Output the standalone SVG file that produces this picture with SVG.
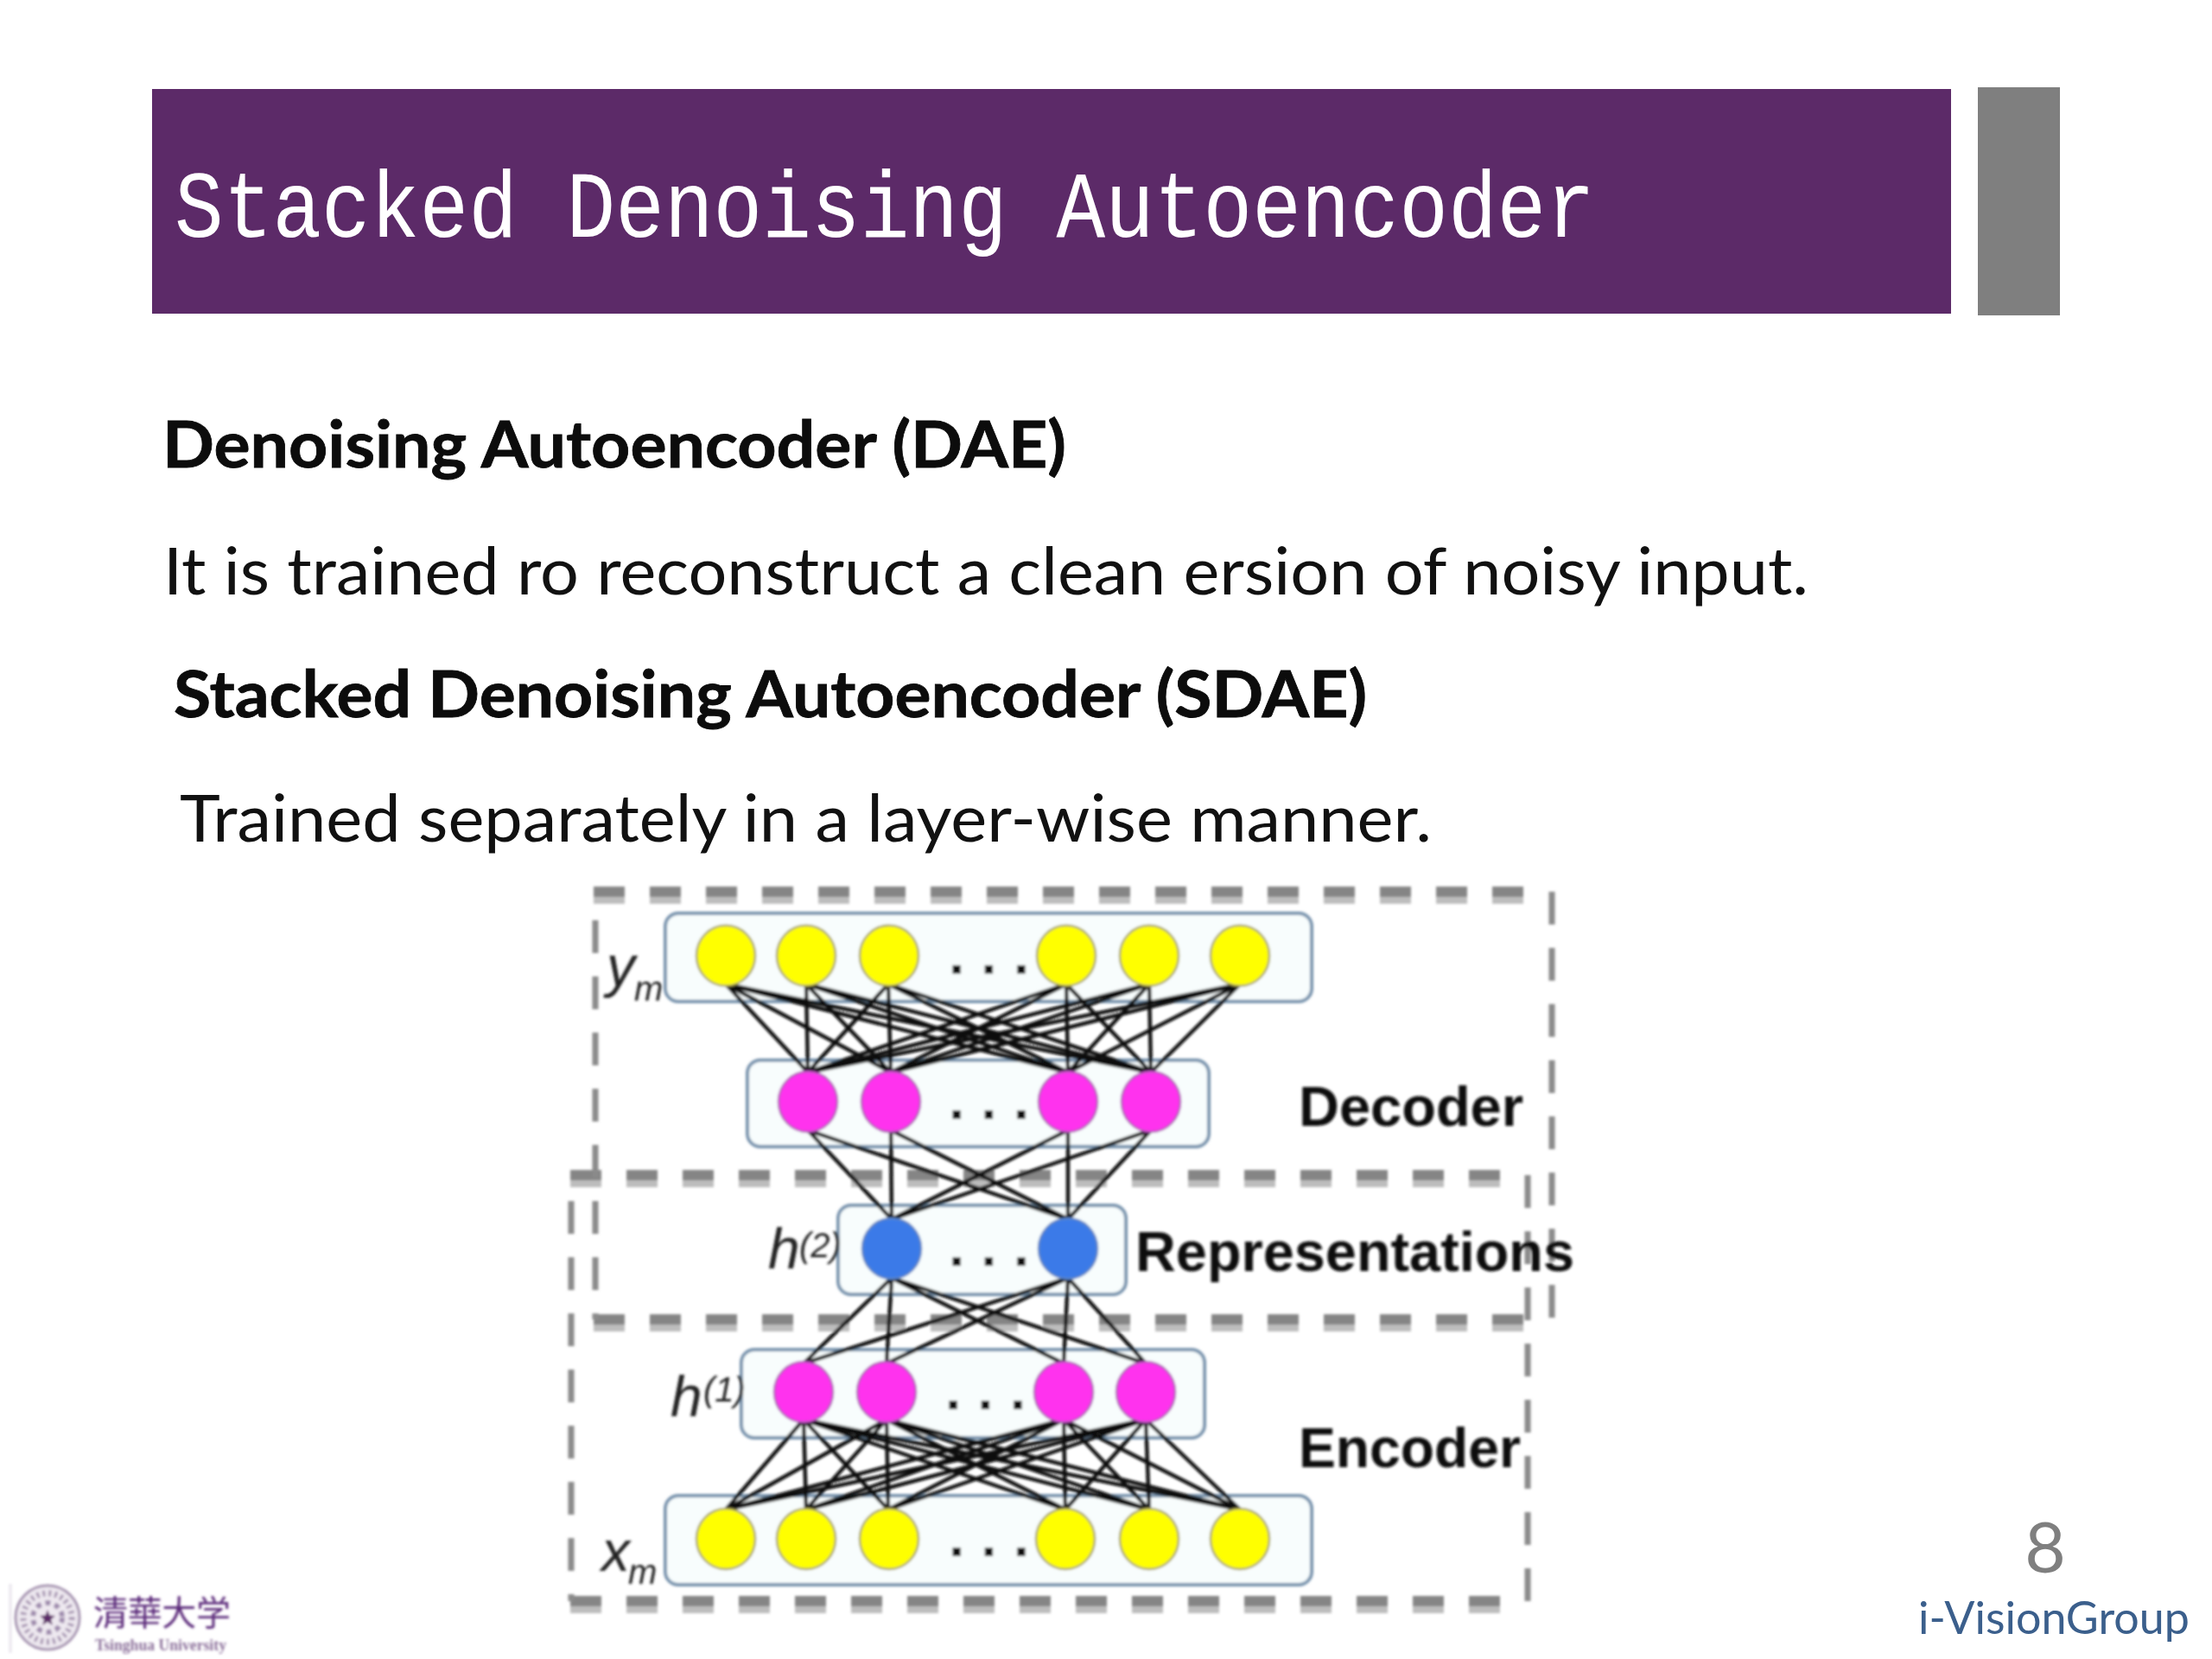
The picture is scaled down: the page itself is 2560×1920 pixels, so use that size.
<svg xmlns="http://www.w3.org/2000/svg" width="2560" height="1920" viewBox="0 0 2560 1920">
<style>
.h{font-family:"Lato","Open Sans",sans-serif;font-size:75px;font-weight:700;fill:#0c0c0c;stroke:#0c0c0c;stroke-width:.8}
.b{font-family:"Lato","Open Sans",sans-serif;font-size:75px;font-weight:400;fill:#111}
.lab{font-family:"Liberation Sans",Arial,sans-serif;font-weight:700;font-size:64px;fill:#111}
.it{font-family:"Liberation Sans",Arial,sans-serif;font-style:italic;fill:#222}
.dots{font-family:"Liberation Sans",Arial,sans-serif;font-weight:700;font-size:66px;fill:#111;letter-spacing:19px}
.dh{stroke:#858585;stroke-width:12;stroke-dasharray:36 29;fill:none}
.ds{stroke:#bdbdbd;stroke-width:10;stroke-dasharray:36 29;fill:none}
.dv{stroke:#8a8a8a;stroke-width:7;stroke-dasharray:38 27;fill:none}
.box{fill:#f8fdfd;stroke:#7793ad;stroke-width:4}
.y{fill:#ffff00;stroke:#a8a25a;stroke-width:2.5}
.m{fill:#ff33ee;stroke:#b056b8;stroke-width:2.5}
.c{fill:#3b7ae8;stroke:#5b84c4;stroke-width:2.5}
#edges line{stroke:#0a0a0a;stroke-width:4.4}
</style>
<defs><filter id="soft" x="-2%" y="-2%" width="104%" height="104%"><feGaussianBlur stdDeviation="1.7"/></filter></defs>
<rect width="2560" height="1920" fill="#fff"/>
<g id="title">
<rect x="176" y="103" width="2082" height="260" fill="#5c2a68"/>
<rect x="2289" y="101" width="95" height="264" fill="#7f7f7f"/>
<text x="202" y="274" font-family="Liberation Mono, monospace" font-size="110" fill="#fff" textLength="1644" lengthAdjust="spacingAndGlyphs">Stacked Denoising Autoencoder</text>
</g>
<g id="body">
<text class="h" x="188" y="541" textLength="1046" lengthAdjust="spacingAndGlyphs">Denoising Autoencoder (DAE)</text>
<text class="b" x="189" y="688" textLength="1904" lengthAdjust="spacingAndGlyphs">It is trained ro reconstruct a clean ersion of noisy input.</text>
<text class="h" x="201" y="830" textLength="1381" lengthAdjust="spacingAndGlyphs">Stacked Denoising Autoencoder (SDAE)</text>
<text class="b" x="208" y="974" textLength="1449" lengthAdjust="spacingAndGlyphs">Trained separately in a layer-wise manner.</text>
</g>
<g id="network" filter="url(#soft)">
<g id="frames">
<line class="ds" x1="687" y1="1041" x2="1771" y2="1041"/>
<line class="ds" x1="660" y1="1369" x2="1745" y2="1369"/>
<line class="ds" x1="687" y1="1536" x2="1771" y2="1536"/>
<line class="ds" x1="660" y1="1862" x2="1745" y2="1862"/>
<line class="dh" x1="687" y1="1032" x2="1771" y2="1032"/>
<line class="dh" x1="660" y1="1360" x2="1745" y2="1360"/>
<line class="dh" x1="687" y1="1527" x2="1771" y2="1527"/>
<line class="dh" x1="660" y1="1853" x2="1745" y2="1853"/>
<line class="dv" x1="689" y1="1065" x2="689" y2="1527"/>
<line class="dv" x1="1796" y1="1032" x2="1796" y2="1530"/>
<line class="dv" x1="661" y1="1390" x2="661" y2="1853"/>
<line class="dv" x1="1768" y1="1360" x2="1768" y2="1853"/>
</g>
<g id="layer-boxes">
<rect class="box" x="770" y="1057" width="748" height="102" rx="15"/>
<rect class="box" x="865" y="1227" width="534" height="100" rx="15"/>
<rect class="box" x="970" y="1395" width="333" height="103" rx="15"/>
<rect class="box" x="858" y="1562" width="536" height="102" rx="15"/>
<rect class="box" x="770" y="1731" width="748" height="103" rx="15"/>
</g>
<g id="edges">
<line x1="840" y1="1139" x2="935" y2="1241"/><line x1="840" y1="1139" x2="1031" y2="1241"/><line x1="840" y1="1139" x2="1236" y2="1241"/><line x1="840" y1="1139" x2="1332" y2="1241"/>
<line x1="933" y1="1139" x2="935" y2="1241"/><line x1="933" y1="1139" x2="1031" y2="1241"/><line x1="933" y1="1139" x2="1236" y2="1241"/><line x1="933" y1="1139" x2="1332" y2="1241"/>
<line x1="1028" y1="1139" x2="935" y2="1241"/><line x1="1028" y1="1139" x2="1031" y2="1241"/><line x1="1028" y1="1139" x2="1236" y2="1241"/><line x1="1028" y1="1139" x2="1332" y2="1241"/>
<line x1="1234" y1="1139" x2="935" y2="1241"/><line x1="1234" y1="1139" x2="1031" y2="1241"/><line x1="1234" y1="1139" x2="1236" y2="1241"/><line x1="1234" y1="1139" x2="1332" y2="1241"/>
<line x1="1330" y1="1139" x2="935" y2="1241"/><line x1="1330" y1="1139" x2="1031" y2="1241"/><line x1="1330" y1="1139" x2="1236" y2="1241"/><line x1="1330" y1="1139" x2="1332" y2="1241"/>
<line x1="1435" y1="1139" x2="935" y2="1241"/><line x1="1435" y1="1139" x2="1031" y2="1241"/><line x1="1435" y1="1139" x2="1236" y2="1241"/><line x1="1435" y1="1139" x2="1332" y2="1241"/>
<line x1="935" y1="1308" x2="1032" y2="1411"/><line x1="935" y1="1308" x2="1236" y2="1411"/>
<line x1="1031" y1="1308" x2="1032" y2="1411"/><line x1="1031" y1="1308" x2="1236" y2="1411"/>
<line x1="1236" y1="1308" x2="1032" y2="1411"/><line x1="1236" y1="1308" x2="1236" y2="1411"/>
<line x1="1332" y1="1308" x2="1032" y2="1411"/><line x1="1332" y1="1308" x2="1236" y2="1411"/>
<line x1="1032" y1="1479" x2="930" y2="1578"/><line x1="1032" y1="1479" x2="1026" y2="1578"/><line x1="1032" y1="1479" x2="1231" y2="1578"/><line x1="1032" y1="1479" x2="1326" y2="1578"/>
<line x1="1236" y1="1479" x2="930" y2="1578"/><line x1="1236" y1="1479" x2="1026" y2="1578"/><line x1="1236" y1="1479" x2="1231" y2="1578"/><line x1="1236" y1="1479" x2="1326" y2="1578"/>
<line x1="930" y1="1643" x2="840" y2="1747"/><line x1="930" y1="1643" x2="933" y2="1747"/><line x1="930" y1="1643" x2="1028" y2="1747"/><line x1="930" y1="1643" x2="1233" y2="1747"/><line x1="930" y1="1643" x2="1330" y2="1747"/><line x1="930" y1="1643" x2="1435" y2="1747"/>
<line x1="1026" y1="1643" x2="840" y2="1747"/><line x1="1026" y1="1643" x2="933" y2="1747"/><line x1="1026" y1="1643" x2="1028" y2="1747"/><line x1="1026" y1="1643" x2="1233" y2="1747"/><line x1="1026" y1="1643" x2="1330" y2="1747"/><line x1="1026" y1="1643" x2="1435" y2="1747"/>
<line x1="1231" y1="1643" x2="840" y2="1747"/><line x1="1231" y1="1643" x2="933" y2="1747"/><line x1="1231" y1="1643" x2="1028" y2="1747"/><line x1="1231" y1="1643" x2="1233" y2="1747"/><line x1="1231" y1="1643" x2="1330" y2="1747"/><line x1="1231" y1="1643" x2="1435" y2="1747"/>
<line x1="1326" y1="1643" x2="840" y2="1747"/><line x1="1326" y1="1643" x2="933" y2="1747"/><line x1="1326" y1="1643" x2="1028" y2="1747"/><line x1="1326" y1="1643" x2="1233" y2="1747"/><line x1="1326" y1="1643" x2="1330" y2="1747"/><line x1="1326" y1="1643" x2="1435" y2="1747"/>
</g>
<g id="layer-ym">
<ellipse class="y" cx="840" cy="1106" rx="34" ry="35"/><ellipse class="y" cx="933" cy="1106" rx="34" ry="35"/><ellipse class="y" cx="1029" cy="1106" rx="34" ry="35"/><ellipse class="y" cx="1234" cy="1106" rx="34" ry="35"/><ellipse class="y" cx="1330" cy="1106" rx="34" ry="35"/><ellipse class="y" cx="1435" cy="1106" rx="34" ry="35"/>
<text class="dots" x="1098" y="1127">...</text>
<text class="it" x="702" y="1141" font-size="66">y</text><text class="it" x="734" y="1158" font-size="40">m</text>
</g>
<g id="layer-decoder">
<ellipse class="m" cx="935" cy="1275" rx="34" ry="35"/><ellipse class="m" cx="1031" cy="1275" rx="34" ry="35"/><ellipse class="m" cx="1236" cy="1275" rx="34" ry="35"/><ellipse class="m" cx="1332" cy="1275" rx="34" ry="35"/>
<text class="dots" x="1098" y="1295">...</text>
<text class="lab" x="1503" y="1303" textLength="260" lengthAdjust="spacingAndGlyphs">Decoder</text>
</g>
<g id="layer-h2">
<ellipse class="c" cx="1032" cy="1445" rx="34" ry="35"/><ellipse class="c" cx="1236" cy="1445" rx="34" ry="35"/>
<text class="dots" x="1098" y="1465">...</text>
<text class="it" x="889" y="1468" font-size="66">h</text><text class="it" x="925" y="1455" font-size="40">(2)</text>
<text class="lab" x="1314" y="1471" textLength="508" lengthAdjust="spacingAndGlyphs">Representations</text>
</g>
<g id="layer-h1">
<ellipse class="m" cx="930" cy="1611" rx="34" ry="35"/><ellipse class="m" cx="1026" cy="1611" rx="34" ry="35"/><ellipse class="m" cx="1231" cy="1611" rx="34" ry="35"/><ellipse class="m" cx="1326" cy="1611" rx="34" ry="35"/>
<text class="dots" x="1094" y="1631">...</text>
<text class="it" x="776" y="1639" font-size="66">h</text><text class="it" x="814" y="1622" font-size="40">(1)</text>
<text class="lab" x="1503" y="1698" textLength="257" lengthAdjust="spacingAndGlyphs">Encoder</text>
</g>
<g id="layer-xm">
<ellipse class="y" cx="840" cy="1781" rx="34" ry="35"/><ellipse class="y" cx="933" cy="1781" rx="34" ry="35"/><ellipse class="y" cx="1029" cy="1781" rx="34" ry="35"/><ellipse class="y" cx="1233" cy="1781" rx="34" ry="35"/><ellipse class="y" cx="1330" cy="1781" rx="34" ry="35"/><ellipse class="y" cx="1435" cy="1781" rx="34" ry="35"/>
<text class="dots" x="1098" y="1801">...</text>
<text class="it" x="696" y="1818" font-size="66">x</text><text class="it" x="727" y="1833" font-size="40">m</text>
</g>
</g>
<g id="footer">
<text x="2367" y="1820" text-anchor="middle" font-family="Lato,sans-serif" font-size="82" fill="#7f7f7f">8</text>
<text x="2220" y="1891" font-family="Lato,sans-serif" font-size="53" fill="#3b5f8c" textLength="314" lengthAdjust="spacingAndGlyphs">i-VisionGroup</text>
</g>
<g id="logo" filter="url(#soft)">
<line x1="12" y1="1833" x2="12" y2="1913" stroke="#e8e5ec" stroke-width="3"/>
<circle cx="55" cy="1872" r="37" fill="#eee9f0" stroke="#a593b0" stroke-width="3"/>
<circle cx="55" cy="1872" r="28" fill="none" stroke="#a593b0" stroke-width="7" stroke-dasharray="3 4"/>
<circle cx="55" cy="1872" r="17" fill="none" stroke="#9f8bad" stroke-width="6" stroke-dasharray="6 5"/>
<polygon points="55,1863 57.5,1869.5 64,1870 59,1874.5 61,1881 55,1877 49,1881 51,1874.500 46,1870 52.500,1869.5" fill="#5c2a68"/>
<text x="108" y="1881" font-family="Noto Sans CJK TC,sans-serif" font-size="40" font-weight="400" fill="#5c2a7a" textLength="159">清華大学</text>
<text x="110" y="1910" font-family="Liberation Serif,serif" font-size="18" font-weight="700" fill="#8b6f9a" textLength="152" lengthAdjust="spacingAndGlyphs">Tsinghua University</text>
</g>
</svg>
